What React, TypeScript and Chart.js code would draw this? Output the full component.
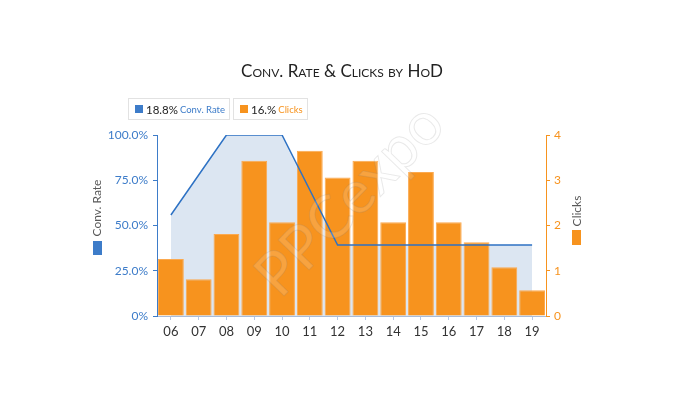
import { useEffect, useRef } from "react";
import { Chart, registerables } from "chart.js";

Chart.register(...registerables);

const hours = ["06", "07", "08", "09", "10", "11", "12", "13", "14", "15", "16", "17", "18", "19"];
const convRate = [55.8, 77.9, 100, 100, 100, 69.6, 39.2, 39.2, 39.2, 39.2, 39.2, 39.2, 39.2, 39.2];
const clicks = [1.26, 0.81, 1.81, 3.43, 2.07, 3.65, 3.06, 3.43, 2.07, 3.18, 2.07, 1.63, 1.08, 0.57];
const rateTicks = [0, 25, 50, 75, 100];
const clickTicks = [0, 1, 2, 3, 4];

const BLUE = "#3D7CC9";
const LINE_BLUE = "#2E72C4";
const ORANGE = "#F7931E";
const FONT = "Lato, 'Open Sans', sans-serif";

// side labels + watermark, drawn straight on the canvas
const extrasPlugin = {
  id: "extras",
  afterDraw(chart: Chart) {
    const ctx = chart.ctx;
    ctx.save();
    ctx.font = `12px ${FONT}`;
    ctx.textAlign = "center";
    ctx.textBaseline = "middle";

    ctx.fillStyle = "#595959";
    ctx.save();
    ctx.translate(97.5, 208);
    ctx.rotate(-Math.PI / 2);
    ctx.fillText("Conv. Rate", 0, 0);
    ctx.restore();
    ctx.fillStyle = BLUE;
    ctx.fillRect(93, 241, 9, 14);

    ctx.fillStyle = "#595959";
    ctx.save();
    ctx.translate(577, 211);
    ctx.rotate(-Math.PI / 2);
    ctx.fillText("Clicks", 0, 0);
    ctx.restore();
    ctx.fillStyle = ORANGE;
    ctx.fillRect(572, 230, 9, 15);

    // watermark
    ctx.save();
    ctx.translate(350, 200);
    ctx.rotate(-0.8);
    ctx.font = `60px ${FONT}`;
    ctx.fillStyle = "rgba(255,255,255,0.15)";
    ctx.strokeStyle = "rgba(120,120,120,0.16)";
    ctx.lineWidth = 1;
    ctx.fillText("PPCexpo", 0, 0);
    ctx.strokeText("PPCexpo", 0, 0);
    ctx.restore();

    ctx.restore();
  },
};

export default function App() {
  const canvasRef = useRef<HTMLCanvasElement>(null);
  const chartRef = useRef<Chart | null>(null);

  useEffect(() => {
    if (!canvasRef.current) return;
    if (chartRef.current) chartRef.current.destroy();

    chartRef.current = new Chart(canvasRef.current, {
      type: "bar",
      data: {
        labels: hours,
        datasets: [
          {
            type: "line",
            label: "Conv. Rate",
            data: convRate,
            yAxisID: "yRate",
            borderColor: LINE_BLUE,
            borderWidth: 1.5,
            backgroundColor: "#DCE6F2",
            fill: "origin",
            pointRadius: 0,
            tension: 0,
            order: 0,
          },
          {
            type: "bar",
            label: "Clicks",
            data: clicks,
            yAxisID: "yClicks",
            backgroundColor: ORANGE,
            borderColor: "#FBA94F",
            borderWidth: 1,
            barPercentage: 0.93,
            categoryPercentage: 1,
            order: 1,
          },
        ],
      },
      options: {
        responsive: true,
        maintainAspectRatio: false,
        animation: false,
        layout: { padding: { top: 135, left: 0, right: 0, bottom: 0 } },
        plugins: {
          legend: { display: false },
          tooltip: { enabled: false },
          filler: { drawTime: "beforeDatasetsDraw" },
        },
        scales: {
          x: {
            type: "category",
            offset: true,
            grid: { drawOnChartArea: false, offset: false, tickLength: 4, color: "#B4C7E7" },
            border: { color: "#A9BCD9" },
            ticks: { color: "#333333", font: { family: FONT, size: 13 }, padding: 4 },
            afterFit: (s: any) => {
              s.height = 84;
            },
          },
          yRate: {
            type: "linear",
            position: "left",
            min: 0,
            max: 100,
            afterBuildTicks: (s: any) => {
              s.ticks = rateTicks.map((v) => ({ value: v }));
            },
            ticks: {
              color: BLUE,
              font: { family: FONT, size: 12 },
              padding: 5,
              callback: (v: any) => (v === 0 ? "0%" : Number(v).toFixed(1) + "%"),
            },
            grid: { drawOnChartArea: false, tickLength: 4, color: BLUE },
            border: { color: BLUE },
            afterFit: (s: any) => {
              s.width = 157;
            },
          },
          yClicks: {
            type: "linear",
            position: "right",
            min: 0,
            max: 4,
            afterBuildTicks: (s: any) => {
              s.ticks = clickTicks.map((v) => ({ value: v }));
            },
            ticks: { color: ORANGE, font: { family: FONT, size: 12 }, padding: 4 },
            grid: { drawOnChartArea: false, tickLength: 4, color: ORANGE },
            border: { color: ORANGE },
            afterFit: (s: any) => {
              s.width = 152;
            },
          },
        },
      },
      plugins: [extrasPlugin],
    });

    return () => {
      if (chartRef.current) {
        chartRef.current.destroy();
        chartRef.current = null;
      }
    };
  }, []);

  const box: React.CSSProperties = {
    height: 22,
    border: "1px solid #E2E2E2",
    boxSizing: "border-box",
    display: "flex",
    alignItems: "center",
    paddingRight: 4,
    fontFamily: FONT,
    background: "#fff",
    whiteSpace: "nowrap",
  };
  const swatch = (c: string): React.CSSProperties => ({
    width: 8,
    height: 8,
    flexShrink: 0,
    background: c,
    marginLeft: 6,
    marginRight: 3,
  });

  return (
    <div style={{ position: "fixed", left: 0, top: 0, width: 698, height: 400, background: "#fff" }}>
      <canvas ref={canvasRef} style={{ position: "absolute", left: 0, top: 0 }} />
      <div
        style={{
          position: "absolute",
          left: 0,
          width: 684,
          top: 60,
          textAlign: "center",
          fontFamily: FONT,
          fontSize: 17,
          fontVariant: "small-caps",
          color: "#222",
        }}
      >
        Conv. Rate &amp; Clicks by HoD
      </div>
      <div style={{ position: "absolute", left: 128, top: 98, display: "flex", gap: 3 }}>
        <div style={box}>
          <span style={swatch(BLUE)} />
          <span style={{ fontSize: 11.5, color: "#222" }}>18.8%</span>
          <span style={{ fontSize: 9.5, color: BLUE, marginLeft: 2 }}>Conv. Rate</span>
        </div>
        <div style={box}>
          <span style={swatch(ORANGE)} />
          <span style={{ fontSize: 11.5, color: "#222" }}>16.%</span>
          <span style={{ fontSize: 9.5, color: ORANGE, marginLeft: 2 }}>Clicks</span>
        </div>
      </div>
    </div>
  );
}
